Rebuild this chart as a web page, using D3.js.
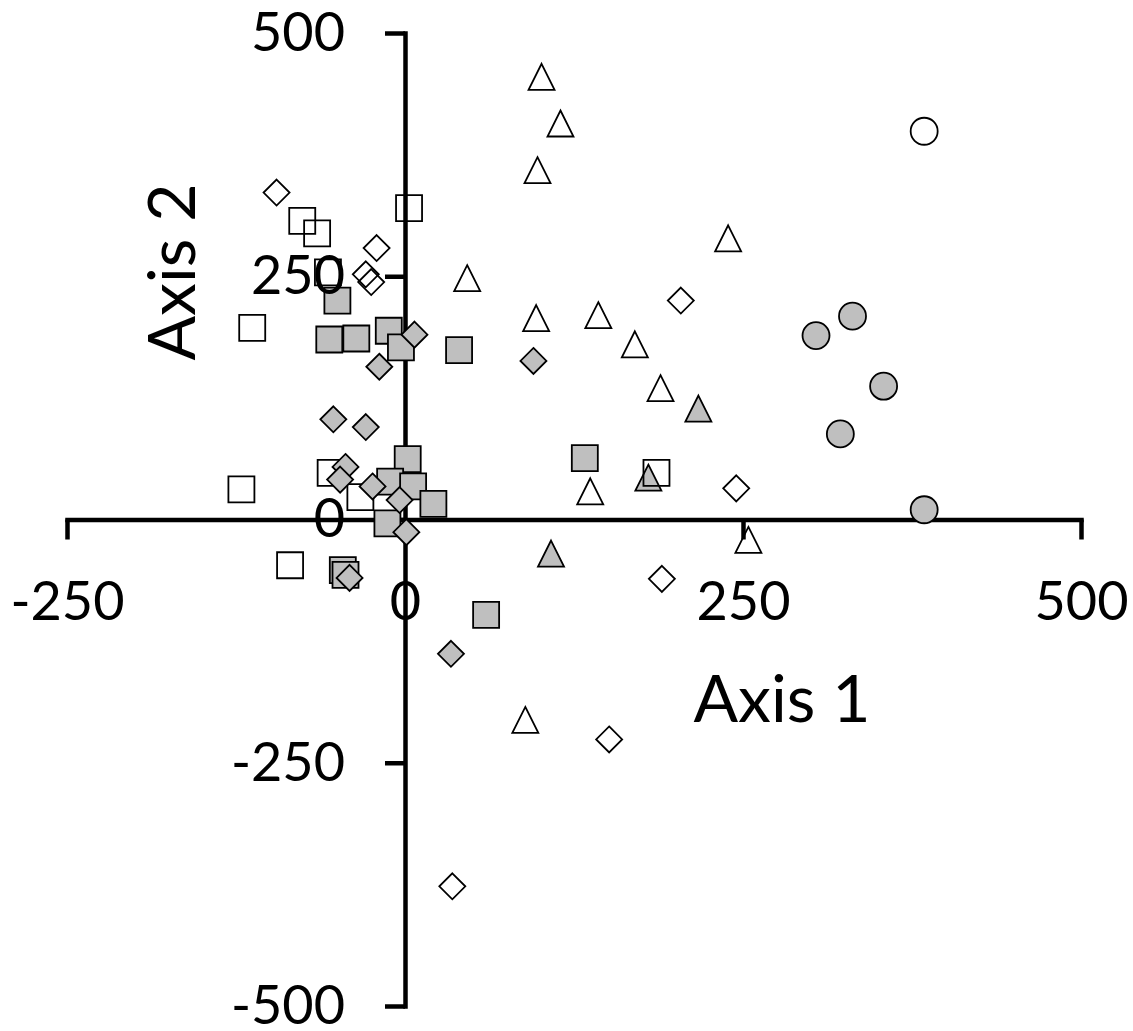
<!DOCTYPE html>
<html>
<head>
<meta charset="utf-8">
<script src="https://cdn.jsdelivr.net/npm/d3@7"></script>
<style>
  html, body { margin: 0; padding: 0; background: #ffffff; }
  svg { display: block; }
</style>
</head>
<body>
<svg id="chart" width="1133" height="1031"></svg>
<script>
// ---- data (Axis 1, Axis 2) ----
const openTriangles = [[101,455],[115,407],[98,359],[239,289],[46,248],[97,207],[143,210],[170,180],[189,135],[137,29],[254,-21],[89,-206]];
const grayTriangles = [[217,114],[180,43],[108,-35]];
const openSquares = [[3,320],[-76,307],[-65,294],[-57,254],[-113,197],[-55,48],[-121,31],[-33,23],[-85,-47],[186,48]];
const graySquares = [[-50,225],[-56,185],[-36,186],[-12,194],[-3,177],[40,174],[2,62],[-11,39],[6,34],[21,16],[-13,-4],[-46,-52],[-44,-57],[60,-98],[133,63]];
const openDiamonds = [[-95,336],[-21,279],[-29,252],[-25,244],[204,225],[245,32],[190,-61],[151,-226],[35,-377]];
const grayDiamonds = [[7,190],[-19,157],[95,163],[-53,103],[-29,95],[-44,54],[-48,41],[-24,34],[-4,20],[1,-13],[-41,-60],[34,-138]];
const openCircles = [[384,399]];
const grayCircles = [[331,209],[304,189],[354,137],[322,88],[384,10]];

const xTicks = [-250, 0, 250, 500];
const yTicks = [-500, -250, 0, 250, 500];
const xTitle = "Axis 1";
const yTitle = "Axis 2";

const series = [
  { data: openTriangles, shape: "triangle", filled: false },
  { data: grayTriangles, shape: "triangle", filled: true },
  { data: openSquares, shape: "square", filled: false },
  { data: graySquares, shape: "square", filled: true },
  { data: openDiamonds, shape: "diamond", filled: false },
  { data: grayDiamonds, shape: "diamond", filled: true },
  { data: openCircles, shape: "circle", filled: false },
  { data: grayCircles, shape: "circle", filled: true }
];

// ---- layout ----
const svg = d3.select("#chart");
const x = d3.scaleLinear().domain([-250, 500]).range([67, 1081]);
const y = d3.scaleLinear().domain([-500, 500]).range([1006, 33]);
const FONT = "Lato, 'Open Sans', sans-serif";
const AXW = 4.5;
const GRAY = "#bfbfbf";
const fmt = d => String(d); // plain hyphen-minus as in the reference

const gAxes = svg.append("g");
const gMarks = svg.append("g");
const gLabels = svg.append("g");

// x axis at y=0
const xAxis = d3.axisBottom(x).tickValues(xTicks).tickSize(20).tickSizeOuter(0).tickPadding(42).tickFormat(fmt);
const gx = gAxes.append("g").attr("transform", `translate(0,${y(0)})`).call(xAxis);
// y axis at x=0
const yAxis = d3.axisLeft(y).tickValues(yTicks).tickSize(20).tickSizeOuter(0).tickPadding(40).tickFormat(fmt);
const gy = gAxes.append("g").attr("transform", `translate(${x(0)},0)`).call(yAxis);

[gx, gy].forEach(g => {
  g.select(".domain").attr("stroke", "#000").attr("stroke-width", AXW).attr("stroke-linecap", "square");
  g.selectAll(".tick line").attr("stroke", "#000").attr("stroke-width", AXW);
  // move labels to label layer so they sit over markers
  g.selectAll(".tick text").each(function() {
    const t = d3.select(this);
    const tr = d3.select(this.parentNode).attr("transform");
    const node = gLabels.append("g").attr("transform", (g === gx ? `translate(0,${y(0)}) ` : `translate(${x(0)},0) `) + tr);
    node.append("text")
      .attr("x", t.attr("x")).attr("y", t.attr("y")).attr("dy", t.attr("dy"))
      .attr("text-anchor", g === gx ? "middle" : "end")
      .attr("font-family", FONT).attr("font-size", 54).attr("fill", "#000")
      .text(t.text());
    t.remove();
  });
});

// markers
const S = 26;
function shapePath(shape) {
  const h = S / 2;
  if (shape === "square") return `M${-h},${-h}H${h}V${h}H${-h}Z`;
  if (shape === "diamond") return `M0,${-h}L${h},0L0,${h}L${-h},0Z`;
  if (shape === "triangle") return `M0,${-h}L${h},${h}L${-h},${h}Z`;
  return null;
}
series.forEach(s => {
  const sel = gMarks.append("g").selectAll("path,circle").data(s.data);
  if (s.shape === "circle") {
    sel.enter().append("circle")
      .attr("cx", d => x(d[0])).attr("cy", d => y(d[1])).attr("r", S / 2 + 0.5)
      .attr("fill", s.filled ? GRAY : "none").attr("stroke", "#000").attr("stroke-width", 1.8);
  } else {
    sel.enter().append("path")
      .attr("d", shapePath(s.shape))
      .attr("transform", d => `translate(${x(d[0])},${y(d[1])})`)
      .attr("fill", s.filled ? GRAY : "none").attr("stroke", "#000").attr("stroke-width", 1.8)
      .attr("stroke-linejoin", "miter");
  }
});

// axis titles
gLabels.append("text")
  .attr("x", 782).attr("y", 722)
  .attr("text-anchor", "middle")
  .attr("font-family", FONT).attr("font-size", 66).attr("fill", "#000")
  .text(xTitle);
gLabels.append("text")
  .attr("transform", "translate(195,272) rotate(-90)")
  .attr("text-anchor", "middle")
  .attr("font-family", FONT).attr("font-size", 66).attr("fill", "#000")
  .text(yTitle);
</script>
</body>
</html>
